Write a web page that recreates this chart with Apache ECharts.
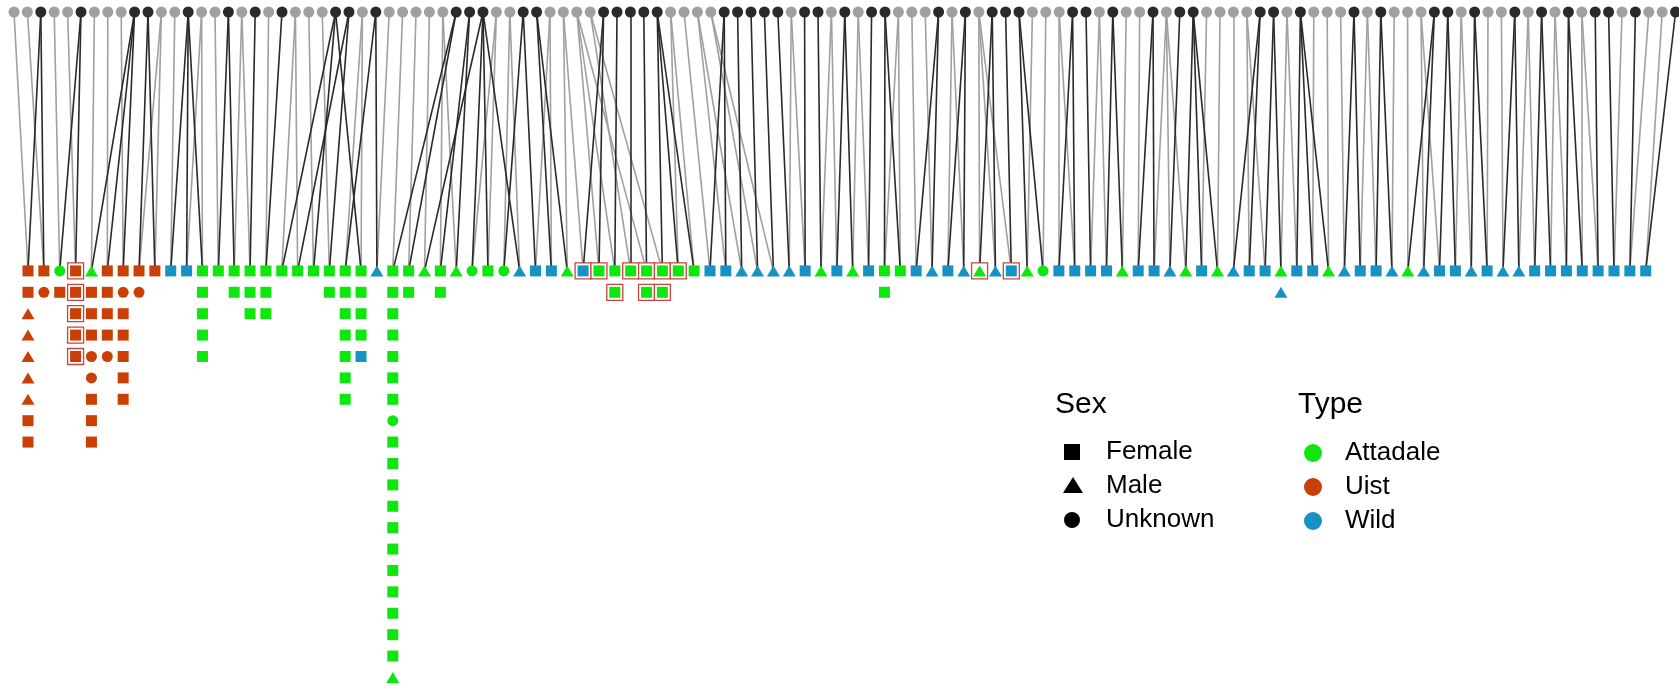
<!DOCTYPE html>
<html><head><meta charset="utf-8">
<script src="https://cdn.jsdelivr.net/npm/echarts@6/dist/echarts.min.js"></script>
<style>html,body{margin:0;padding:0;background:#fff;overflow:hidden}#c{width:1679px;height:686px}</style>
</head><body><div id="c"></div>
<script>
// ---- DATA ----
// tone of each parent in the top row: g = grey, b = black
const parentTone = ("ggbggbgggb" + "bggbggbgbg" + "bgggbbgbgg" + "gggbbbggbb" + "ggggbbbbbg" +
  "gggbbbbbgb" + "bgbgbbgggb" + "gbgbbbgggb" + "bgbggbgbbg" + "gggbbgbggg" +
  "bgbgggbbgb" + "ggbgbgbgbb" + "gbggb").split('');

// offspring columns (top to bottom). Sex: F/M/U, Type: a=Attadale u=Uist w=Wild, * = boxed
const families = [
  "Fu Fu Mu Mu Mu Mu Mu Fu Fu", "Fu Uu", "Ua Fu", "Fu* Fu* Fu* Fu* Fu*",
  "Ma Fu Fu Fu Uu Uu Fu Fu Fu", "Fu Fu Fu Fu Uu", "Fu Uu Fu Fu Fu Fu Fu", "Fu Uu", "Fu", "Fw",
  "Fw", "Fa Fa Fa Fa Fa", "Fa", "Fa Fa", "Fa Fa Fa", "Fa Fa Fa", "Fa", "Fa", "Fa", "Fa Fa",
  "Fa Fa Fa Fa Fa Fa Fa", "Fa Fa Fa Fa Fw", "Mw",
  "Fa Fa Fa Fa Fa Fa Fa Ua Fa Fa Fa Fa Fa Fa Fa Fa Fa Fa Fa Ma",
  "Fa Fa", "Ma", "Fa Fa", "Ma", "Ua", "Fa",
  "Ua", "Mw", "Fw", "Fw", "Ma", "Fw*", "Fa*", "Fa Fa*", "Fa*", "Fa* Fa*",
  "Fa* Fa*", "Fa*", "Fa", "Fw", "Fw", "Mw", "Mw", "Mw", "Mw", "Fw",
  "Ma", "Fw", "Ma", "Fw", "Fa Fa", "Fa", "Fw", "Mw", "Fw", "Mw",
  "Ma*", "Mw", "Fw*", "Ma", "Ua", "Fw", "Fw", "Fw", "Fw", "Ma",
  "Fw", "Fw", "Mw", "Ma", "Fw", "Ma", "Mw", "Fw", "Fw", "Ma Mw",
  "Fw", "Fw", "Ma", "Mw", "Fw", "Fw", "Mw", "Ma", "Mw", "Fw",
  "Fw", "Mw", "Fw", "Mw", "Mw", "Fw", "Fw", "Fw", "Fw", "Fw",
  "Fw", "Fw", "Fw"
];

// parent (index into parentTone) linked to the top node of each column
const damIdx = [0,1,3,4,6,7,8,11,11,12, 14,14,15,17,17,19,21,21,22,23,
  26,26,28,29,30,31,32,32,36,36, 37,37,40,40,41,41,42,42,43,42,
  43,49,49,50,51,51,52,52,58,58, 61,61,63,63,66,66,67,68,70,70,
  72,72,72,76,77,78,78,81,81,83, 84,86,86,86,89,90,91,92,92,95,
  95,97,98,99,101,101,103,104,105,105, 108,108,110,111,113,113,115,115,117,117,
  120,122,123];
const sireIdx = [2,2,5,5,9,9,9,10,10,13, 13,13,16,16,18,20,24,25,24,25,
  27,24,27,33,33,35,34,34,35,35, 38,35,38,39,39,44,44,45,46,47,
  48,48,48,53,53,54,55,56,57,59, 60,62,62,64,65,65,69,69,71,71,
  73,73,74,75,75,79,79,80,82,82, 85,85,87,88,88,88,93,93,94,94,
  96,96,96,100,100,102,102,106,106,107, 107,109,109,112,112,114,114,116,116,118,
  119,121,124];

const sexNames = ["Female", "Male", "Unknown"];
const typeNames = ["Attadale", "Uist", "Wild"];

// ---- STYLE / LAYOUT ----
const TYPE_COLOR = {a: '#0ee60e', u: '#c93f06', w: '#1792c4'};
const SEX_SYMBOL = {F: 'rect', M: 'triangle', U: 'circle'};
const SEX_SIZE = {F: [11, 11], M: [13, 11], U: [11, 11]};
const TONE_COLOR = {g: '#a0a0a0', b: '#2a2a2a'};
const BOX_COLOR = '#c8453f';

// axis ranges (x in parent slots, y in offspring rows)
const X_MIN = -1.0448, X_MAX = 124.254;
const CHILD_X0 = 1.0448, CHILD_STEP = 1.18358;
const Y_MIN = -0.561, Y_MAX = 31.5, ROW0 = 12.1;

const childX = j => CHILD_X0 + j * CHILD_STEP;

const parentData = parentTone.map((t, i) => ({value: [i, 0], itemStyle: {color: TONE_COLOR[t], opacity: 1}}));

const childData = [], boxData = [];
families.forEach((col, j) => {
  col.split(' ').forEach((tok, r) => {
    const s = tok[0], t = tok[1];
    const v = [childX(j), ROW0 + r];
    childData.push({value: v, symbol: SEX_SYMBOL[s], symbolSize: SEX_SIZE[s], itemStyle: {color: TYPE_COLOR[t], opacity: 1}});
    if (tok.indexOf('*') >= 0) boxData.push({value: v});
  });
});

const greyEdges = damIdx.map((p, j) => ({coords: [[p, 0], [childX(j), ROW0]], lineStyle: {color: TONE_COLOR[parentTone[p]]}}));
const blackEdges = sireIdx.map((p, j) => ({coords: [[p, 0], [childX(j), ROW0]], lineStyle: {color: TONE_COLOR[parentTone[p]]}}));

const FONT = '"Liberation Sans", Arial, sans-serif';
function txt(text, x, y, size) {
  return {type: 'text', style: {text, x, y, fontSize: size, fontFamily: FONT, fill: '#000', verticalAlign: 'middle', align: 'left'}};
}
const legendY = [452, 486, 520];
const graphic = [
  txt('Sex', 1055, 405, 30),
  txt('Type', 1298, 405, 30),
  {type: 'rect', shape: {x: 1064, y: 444, width: 16, height: 16}, style: {fill: '#000'}},
  {type: 'polygon', shape: {points: [[1073, 477], [1083, 493], [1063, 493]]}, style: {fill: '#000'}},
  {type: 'circle', shape: {cx: 1072, cy: 520, r: 8}, style: {fill: '#000'}},
  {type: 'circle', shape: {cx: 1313, cy: 453, r: 9}, style: {fill: TYPE_COLOR.a}},
  {type: 'circle', shape: {cx: 1313, cy: 487, r: 9}, style: {fill: TYPE_COLOR.u}},
  {type: 'circle', shape: {cx: 1313, cy: 521, r: 9}, style: {fill: TYPE_COLOR.w}}
];
sexNames.forEach((n, k) => graphic.push(txt(n, 1106, legendY[k], 26)));
typeNames.forEach((n, k) => graphic.push(txt(n, 1345, legendY[k] + 1, 26)));

const chart = echarts.init(document.getElementById('c'), null, {renderer: 'canvas'});
chart.setOption({
  animation: false,
  backgroundColor: '#fff',
  grid: {left: 0, right: 0, top: 0, bottom: 0},
  xAxis: {type: 'value', min: X_MIN, max: X_MAX, show: false},
  yAxis: {type: 'value', inverse: true, min: Y_MIN, max: Y_MAX, show: false},
  series: [
    {type: 'lines', coordinateSystem: 'cartesian2d', silent: true, z: 1,
     lineStyle: {width: 1.6, opacity: 1}, data: greyEdges},
    {type: 'lines', coordinateSystem: 'cartesian2d', silent: true, z: 1,
     lineStyle: {width: 1.6, opacity: 1}, data: blackEdges},
    {type: 'scatter', silent: true, z: 3, symbol: 'circle', symbolSize: 11,
     itemStyle: {opacity: 1}, data: parentData},
    {type: 'scatter', silent: true, z: 2, symbol: 'rect', symbolSize: 16,
     itemStyle: {color: '#fff', borderColor: BOX_COLOR, borderWidth: 1.3, opacity: 1}, data: boxData},
    {type: 'scatter', silent: true, z: 4, itemStyle: {opacity: 1}, data: childData}
  ],
  graphic: graphic
});
</script>
</body></html>
